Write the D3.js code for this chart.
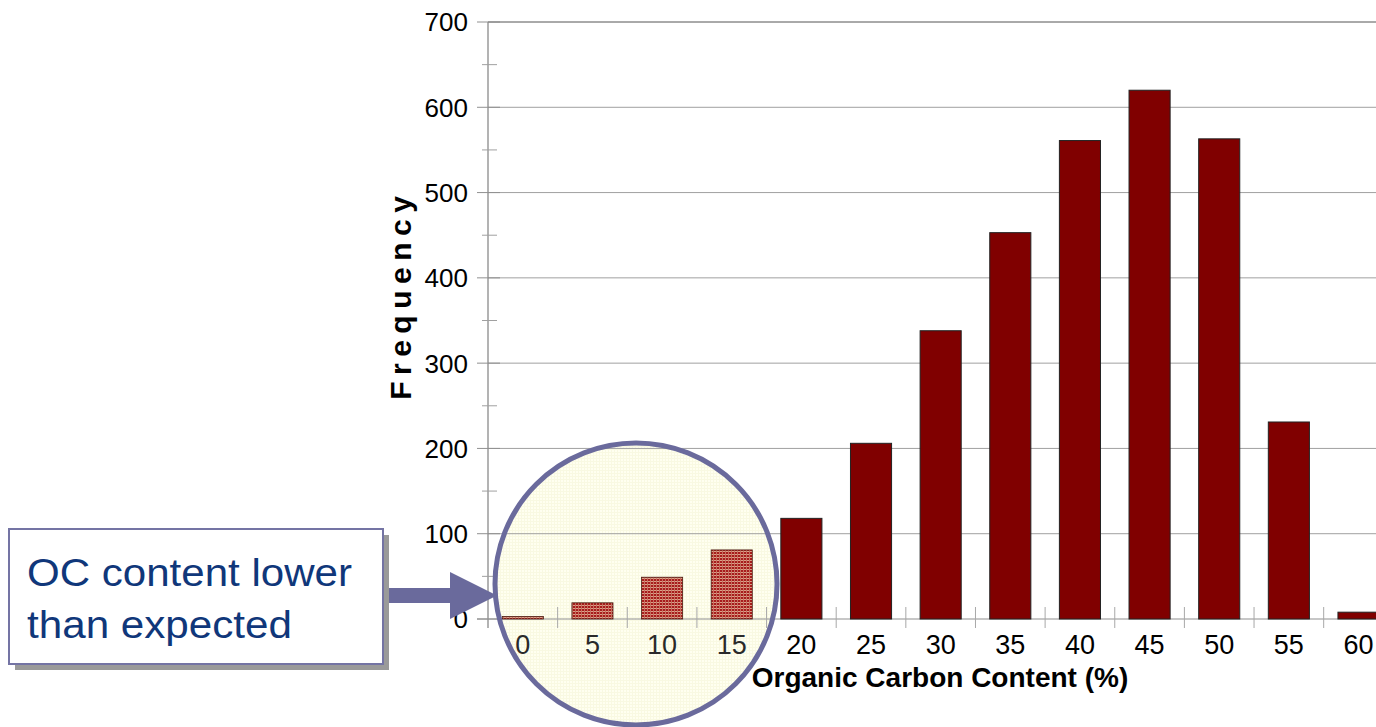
<!DOCTYPE html>
<html>
<head>
<meta charset="utf-8">
<script src="https://cdn.jsdelivr.net/npm/d3@7/dist/d3.min.js"></script>
<style>
  html, body { margin: 0; padding: 0; background: #ffffff; }
  svg { display: block; font-family: "Liberation Sans", Arial, sans-serif; }
</style>
</head>
<body>
<svg id="chart" width="1376" height="727"></svg>
<script>
// Histogram of organic carbon content (% classes)
const categories = ["0", "5", "10", "15", "20", "25", "30", "35", "40", "45", "50", "55", "60"];
const frequency  = [3, 19, 49, 81, 118, 206, 338, 453, 561, 620, 563, 231, 8];
const yTicks = [0, 100, 200, 300, 400, 500, 600, 700];
const yMinorTicks = [50, 150, 250, 350, 450, 550, 650];
// classes shown under the magnifier
const magnified = ["0", "5", "10", "15"];
const calloutLines = ["OC content lower", "than expected"];
const xTitle = "Organic Carbon Content (%)";
const yTitle = "Frequency";

const W = 1376, H = 727;
const plotLeft = 488, plotTop = 22, plotBottom = 619;
const band = 69.64;

const svg = d3.select("#chart");

const x = d3.scaleBand()
  .domain(categories)
  .range([plotLeft, plotLeft + band * categories.length])
  .paddingInner(0.41)
  .paddingOuter(0.205);

const y = d3.scaleLinear().domain([0, 700]).range([plotBottom, plotTop]);

const defs = svg.append("defs");
// magnified cloth-like texture for the low classes
const pat = defs.append("pattern")
  .attr("id", "weave").attr("patternUnits", "userSpaceOnUse")
  .attr("width", 3).attr("height", 3);
pat.append("rect").attr("width", 3).attr("height", 3).attr("fill", "#a81c1c");
pat.append("rect").attr("x", 0).attr("y", 2).attr("width", 3).attr("height", 1).attr("fill", "#dca088");
pat.append("rect").attr("x", 2).attr("y", 0).attr("width", 1).attr("height", 3).attr("fill", "#c47060");

// faint texture for the lens background
const lensPat = defs.append("pattern")
  .attr("id", "lensTex").attr("patternUnits", "userSpaceOnUse")
  .attr("width", 3).attr("height", 3);
lensPat.append("rect").attr("width", 3).attr("height", 3).attr("fill", "#fffff0");
lensPat.append("rect").attr("x", 0).attr("y", 2).attr("width", 3).attr("height", 1).attr("fill", "#f9f9e2");
lensPat.append("rect").attr("x", 2).attr("y", 0).attr("width", 1).attr("height", 3).attr("fill", "#f9f9e2");

const lensCx = 636, lensCy = 584, lensR = 141;
defs.append("clipPath").attr("id", "lensClip")
  .append("circle").attr("cx", lensCx).attr("cy", lensCy).attr("r", lensR);

// lens background sits beneath the chart lines
svg.append("circle").attr("cx", lensCx).attr("cy", lensCy).attr("r", lensR)
  .attr("fill", "url(#lensTex)");

// gridlines
svg.append("g").selectAll("line").data(yTicks.filter(d => d > 0)).join("line")
  .attr("x1", plotLeft).attr("x2", W)
  .attr("y1", d => y(d)).attr("y2", d => y(d))
  .attr("stroke", d => d === 700 ? "#555" : "#a0a0a0").attr("stroke-width", 1);

// y axis
const yAxis = svg.append("g");
yAxis.append("line").attr("x1", plotLeft).attr("x2", plotLeft).attr("y1", plotTop).attr("y2", plotBottom + 9)
  .attr("stroke", "#808080").attr("stroke-width", 1.2);
yAxis.selectAll(".major").data(yTicks).join("line").attr("class", "major")
  .attr("x1", plotLeft - 11).attr("x2", plotLeft + 12)
  .attr("y1", d => y(d)).attr("y2", d => y(d))
  .attr("stroke", "#909090");
yAxis.selectAll(".minor").data(yMinorTicks).join("line").attr("class", "minor")
  .attr("x1", plotLeft - 6).attr("x2", plotLeft + 9)
  .attr("y1", d => y(d)).attr("y2", d => y(d))
  .attr("stroke", "#a0a0a0");
yAxis.selectAll("text").data(yTicks).join("text")
  .attr("x", 468).attr("y", d => y(d)).attr("dy", "0.36em")
  .attr("text-anchor", "end").attr("font-size", 26).attr("fill", "#000")
  .text(d => d);

// x axis
const xAxis = svg.append("g");
xAxis.append("line").attr("x1", plotLeft - 11).attr("x2", W).attr("y1", plotBottom).attr("y2", plotBottom)
  .attr("stroke", "#909090").attr("stroke-width", 1.2);
const boundaries = d3.range(1, categories.length + 1).map(i => plotLeft + i * band);
xAxis.selectAll(".tick").data(boundaries).join("line").attr("class", "tick")
  .attr("x1", d => d).attr("x2", d => d).attr("y1", plotBottom - 12).attr("y2", plotBottom + 9)
  .attr("stroke", "#a8a8a8");
xAxis.selectAll("text").data(categories).join("text")
  .attr("x", d => x(d) + x.bandwidth() / 2).attr("y", 644).attr("dy", "0.36em")
  .attr("text-anchor", "middle").attr("font-size", 27)
  .attr("fill", d => magnified.includes(d) ? "#2a2a2a" : "#000")
  .text(d => d);

// bars
const data = categories.map((c, i) => ({ c, v: frequency[i] }));
svg.append("g").selectAll("rect").data(data.filter(d => !magnified.includes(d.c))).join("rect")
  .attr("x", d => x(d.c)).attr("width", x.bandwidth())
  .attr("y", d => y(d.v)).attr("height", d => y(0) - y(d.v))
  .attr("fill", "#800000").attr("stroke", "#222").attr("stroke-width", 1);

// axis titles
svg.append("text").attr("x", 940).attr("y", 687)
  .attr("text-anchor", "middle").attr("font-size", 28).attr("font-weight", "bold")
  .attr("fill", "#000").text(xTitle);
svg.append("text")
  .attr("transform", "translate(411,298) rotate(-90)")
  .attr("text-anchor", "middle")
  .attr("font-size", 30).attr("font-weight", "bold").attr("fill", "#000")
  .attr("letter-spacing", "6.5px").attr("dx", "3.25px")
  .text(yTitle);

// magnified bars inside the lens
svg.append("g").attr("clip-path", "url(#lensClip)")
  .selectAll("rect").data(data.filter(d => magnified.includes(d.c))).join("rect")
  .attr("x", d => x(d.c)).attr("width", x.bandwidth())
  .attr("y", d => y(d.v)).attr("height", d => y(0) - y(d.v))
  .attr("fill", "url(#weave)").attr("stroke", "#4a2015").attr("stroke-width", 0.8);
svg.append("circle").attr("cx", lensCx).attr("cy", lensCy).attr("r", lensR)
  .attr("fill", "none").attr("stroke", "#6a6a9c").attr("stroke-width", 5);

// callout arrow
svg.append("path")
  .attr("d", "M383,588 L450,588 L450,572 L497,595.5 L450,619 L450,603 L383,603 Z")
  .attr("fill", "#6a6a9c");

// callout box with shadow
svg.append("rect").attr("x", 15).attr("y", 535).attr("width", 374).attr("height", 135)
  .attr("fill", "#9a9a9a");
svg.append("rect").attr("x", 9).attr("y", 529).attr("width", 374).attr("height", 135)
  .attr("fill", "#ffffff").attr("stroke", "#7474a4").attr("stroke-width", 2);
const calloutWidths = [325, 265];
svg.append("g").selectAll("text").data(calloutLines).join("text")
  .attr("x", 27).attr("y", (d, i) => 586 + i * 52)
  .attr("font-size", 38).attr("fill", "#10377a")
  .attr("textLength", (d, i) => calloutWidths[i]).attr("lengthAdjust", "spacingAndGlyphs")
  .text(d => d);
</script>
</body>
</html>
